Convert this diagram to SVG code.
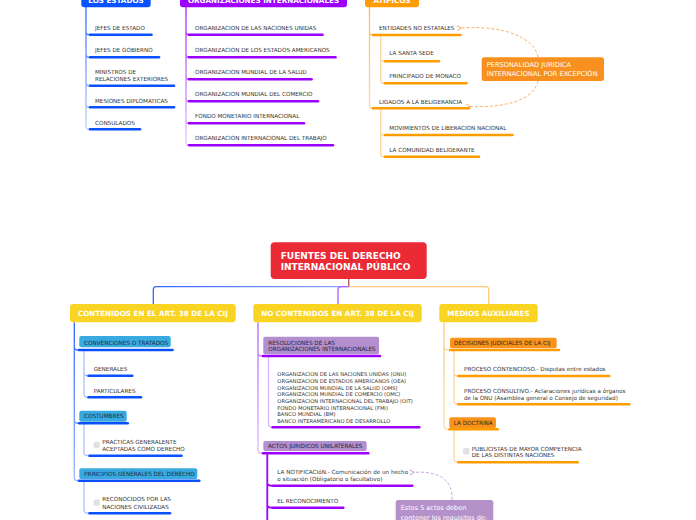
<svg xmlns="http://www.w3.org/2000/svg" width="696" height="520" viewBox="0 0 696 520">
<style>
text{font-family:"DejaVu Sans","Liberation Sans",sans-serif}
.t{font-size:5.65px;fill:#333}
.tl{font-size:5.2px;fill:#333}
.bl{font-size:7.2px;font-weight:bold;fill:#fff}
.lbB{font-size:5.7px;fill:#1d2c44}
.lbP{font-size:5.7px;fill:#2d2236}
.lbO{font-size:5.7px;fill:#3b2610}
.wt{font-size:6.7px;fill:#fff}
.uB{stroke:#0a50ff;stroke-width:2.6;stroke-linecap:round;fill:none}
.uP{stroke:#9d00ff;stroke-width:2.6;stroke-linecap:round;fill:none}
.uO{stroke:#ff9c00;stroke-width:2.6;stroke-linecap:round;fill:none}
.br{fill:none;stroke-width:1.3}
.subB{stroke:#a9c2ff}
.subP{stroke:#d9b5ff}
.subO{stroke:#fdd49a}
.dsh{fill:none;stroke-width:1;stroke-dasharray:3 2}
.cb{fill:#e2e2e2;stroke:#d0d0d0;stroke-width:0.5}
</style>
<defs>
<linearGradient id="gBT" gradientUnits="userSpaceOnUse" x1="0" y1="7" x2="0" y2="130"><stop offset="0" stop-color="#2f6cff"/><stop offset="1" stop-color="#c3d5ff"/></linearGradient>
<linearGradient id="gPT" gradientUnits="userSpaceOnUse" x1="0" y1="7" x2="0" y2="146"><stop offset="0" stop-color="#a324ff"/><stop offset="1" stop-color="#e6c8ff"/></linearGradient>
<linearGradient id="gOT" gradientUnits="userSpaceOnUse" x1="0" y1="7" x2="0" y2="110"><stop offset="0" stop-color="#ffbb5c"/><stop offset="1" stop-color="#ffd7a4"/></linearGradient>
<linearGradient id="gBH" gradientUnits="userSpaceOnUse" x1="153" y1="0" x2="349" y2="0"><stop offset="0" stop-color="#3566ff"/><stop offset="1" stop-color="#8fa8ff"/></linearGradient>
<linearGradient id="gBV" gradientUnits="userSpaceOnUse" x1="0" y1="322" x2="0" y2="482"><stop offset="0" stop-color="#2f63ff"/><stop offset="1" stop-color="#9fb8ff"/></linearGradient>
<linearGradient id="gPV" gradientUnits="userSpaceOnUse" x1="0" y1="322" x2="0" y2="454"><stop offset="0" stop-color="#b45cff"/><stop offset="1" stop-color="#ddb9ff"/></linearGradient>
<linearGradient id="gOV" gradientUnits="userSpaceOnUse" x1="0" y1="322" x2="0" y2="430"><stop offset="0" stop-color="#ffc978"/><stop offset="1" stop-color="#ffdcae"/></linearGradient>
<marker id="arO" markerWidth="6" markerHeight="6" refX="1" refY="3" orient="auto" markerUnits="userSpaceOnUse"><path d="M5,0.5 L1,3 L5,5.5" fill="none" stroke="#f9b26b" stroke-width="1"/></marker>
<marker id="arP" markerWidth="6" markerHeight="6" refX="1" refY="3" orient="auto" markerUnits="userSpaceOnUse"><path d="M5,0.5 L1,3 L5,5.5" fill="none" stroke="#c9a9e2" stroke-width="1"/></marker>
</defs>

<g id="connectors">
<path class="br" stroke="url(#gBT)" d="M86,7 V126.3 Q86,129.3 89,129.3 M86,31.7 Q86,34.7 89,34.7 M86,54.3 Q86,57.3 89,57.3 M86,82.7 Q86,85.7 89,85.7 M86,104.3 Q86,107.3 89,107.3"/>
<path class="br" stroke="url(#gPT)" d="M186,7 V142.3 Q186,145.3 189,145.3 M186,31.7 Q186,34.7 189,34.7 M186,54.3 Q186,57.3 189,57.3 M186,76.3 Q186,79.3 189,79.3 M186,98.3 Q186,101.3 189,101.3 M186,120.3 Q186,123.3 189,123.3"/>
<path class="br" stroke="url(#gOT)" d="M369.5,7 V105.3 Q369.5,108.3 373,108.3 M369.5,32 Q369.5,35 373,35"/>
<path class="br subO" d="M380.7,35 V80.3 Q380.7,83.3 384,83.3 M380.7,58.3 Q380.7,61.3 384,61.3 M380.7,108.3 V153.7 Q380.7,156.7 384,156.7 M380.7,132 Q380.7,135 384,135"/>
<path class="dsh" stroke="#f9b26b" marker-end="url(#arO)" d="M538,57 C534,36 500,25 461,28"/>
<path class="dsh" stroke="#f9b26b" marker-end="url(#arO)" d="M538,81 C534,100 505,108 470,106.5"/>

<path fill="none" stroke="#b9606a" stroke-width="1.5" d="M348.7,279 V287"/>
<path class="br" stroke="url(#gBH)" d="M348.7,286.7 H156.3 Q153.3,286.7 153.3,289.7 V304"/>
<path class="br" stroke="#b35cff" d="M348.7,286.7 H341 Q338,286.7 338,289.7 V304"/>
<path class="br" stroke="#ffc87c" d="M348.7,286.7 H485.7 Q488.7,286.7 488.7,289.7 V304"/>

<path class="br" stroke="url(#gBV)" d="M74.3,322.3 V477.7 Q74.3,480.7 78,480.7 M74.3,347 Q74.3,350 78,350 M74.3,420.3 Q74.3,423.3 78,423.3"/>
<path class="br subB" d="M84,350 V394.3 Q84,397.3 88,397.3 M84,372.7 Q84,375.7 88,375.7 M84,423.3 V452.7 Q84,455.7 89,455.7 M84,480.7 V510.3 Q84,513.3 89,513.3"/>

<path class="br" stroke="url(#gPV)" d="M258,322.3 V450.3 Q258,453.3 262,453.3 M258,353 Q258,356 262,356"/>
<path class="br subP" d="M268.5,356 V424.3 Q268.5,427.3 272.5,427.3"/>
<path fill="none" stroke="#9d00ff" stroke-width="1.8" d="M267.3,453.3 V525 M267.3,482.7 Q267.3,485.7 272,485.7 M267.3,504.7 Q267.3,507.7 272,507.7"/>
<path class="dsh" stroke="#c9a9e2" marker-end="url(#arP)" d="M452,500 C453,480 440,471 414,472.3"/>

<path class="br" stroke="url(#gOV)" d="M444,322.3 V426.3 Q444,429.3 448,429.3 M444,347 Q444,350 448,350"/>
<path class="br subO" d="M454,350 V401.3 Q454,404.3 458,404.3 M454,373 Q454,376 458,376 M454,429.3 V459.3 Q454,462.3 458,462.3"/>
</g>

<g id="los-estados">
<rect x="81.3" y="-12" width="69.4" height="19.3" rx="3" fill="#0a52ff"/>
<text class="bl" x="116" y="2.6" text-anchor="middle">LOS ESTADOS</text>
</g>
<g id="jefes-estado"><text class="t" x="95" y="30">JEFES DE ESTADO</text><path class="uB" d="M90,34.7 H151.5"/></g>
<g id="jefes-gobierno"><text class="t" x="95" y="52">JEFES DE GOBIERNO</text><path class="uB" d="M90,57.3 H159"/></g>
<g id="ministros"><text class="t" x="95" y="74.2">MINISTROS DE</text><text class="t" x="95" y="81.4">RELACIONES EXTERIORES</text><path class="uB" d="M90,85.7 H174"/></g>
<g id="misiones"><text class="t" x="95" y="102.7">MESIONES DIPLOMATICAS</text><path class="uB" d="M90,107.3 H174"/></g>
<g id="consulados"><text class="t" x="95" y="124.7">CONSULADOS</text><path class="uB" d="M90,129.3 H140"/></g>

<g id="org-internacionales">
<rect x="180" y="-12" width="167" height="19.3" rx="3" fill="#9d00ff"/>
<text class="bl" x="263.5" y="2.6" text-anchor="middle">ORGANIZACIONES INTERNACIONALES</text>
</g>
<g id="onu"><text class="t" x="195" y="30">ORGANIZACION DE LAS NACIONES UNIDAS</text><path class="uP" d="M189,34.7 H322.5"/></g>
<g id="oea"><text class="t" x="195" y="52">ORGANIZACION DE LOS ESTADOS AMERICANOS</text><path class="uP" d="M189,57.3 H335.5"/></g>
<g id="oms"><text class="t" x="195" y="74">ORGANIZACION MUNDIAL DE LA SALUD</text><path class="uP" d="M189,79.3 H311.5"/></g>
<g id="omc"><text class="t" x="195" y="96">ORGANIZACION MUNDIAL DEL COMERCIO</text><path class="uP" d="M189,101.3 H318"/></g>
<g id="fmi"><text class="t" x="195" y="118">FONDO MONETARIO INTERNACIONAL</text><path class="uP" d="M189,123.3 H304"/></g>
<g id="oit"><text class="t" x="195" y="140">ORGANIZACION INTERNACIONAL DEL TRABAJO</text><path class="uP" d="M189,145.3 H333"/></g>

<g id="atipicos">
<rect x="365" y="-12" width="54" height="19.3" rx="3" fill="#ff9c00"/>
<text class="bl" x="392" y="2.6" text-anchor="middle">ATIPICOS</text>
</g>
<g id="entidades"><text class="t" x="379" y="30">ENTIDADES NO ESTATALES</text><path class="uO" d="M373,35 H460.5"/></g>
<g id="santa-sede"><text class="t" x="389.3" y="55.3">LA SANTA SEDE</text><path class="uO" d="M385,61.3 H439"/></g>
<g id="monaco"><text class="t" x="389.3" y="78">PRINCIPADO DE MONACO</text><path class="uO" d="M385,83.3 H466.5"/></g>
<g id="ligados"><text class="t" x="379" y="104">LIGADOS A LA BELIGERANCIA</text><path class="uO" d="M373,108.3 H469"/></g>
<g id="movimientos"><text class="t" x="389.3" y="130">MOVIMIENTOS DE LIBERACION NACIONAL</text><path class="uO" d="M385,135 H512.5"/></g>
<g id="comunidad"><text class="t" x="389.3" y="152">LA COMUNIDAD BELIGERANTE</text><path class="uO" d="M385,156.7 H479"/></g>
<g id="personalidad">
<rect x="481.7" y="57.3" width="122.3" height="23.7" rx="2.5" fill="#f7901e"/>
<text class="wt" x="486.7" y="66.7">PERSONALIDAD JURIDICA</text>
<text class="wt" x="486.7" y="75.7">INTERNACIONAL POR EXCEPCIÓN</text>
</g>

<g id="root">
<rect x="270.7" y="242.3" width="156" height="36.7" rx="4" fill="#ea2a35"/>
<text x="280.7" y="259.3" style="font-size:9px;font-weight:bold;fill:#fff">FUENTES DEL DERECHO</text>
<text x="280.7" y="270.2" style="font-size:9px;font-weight:bold;fill:#fff">INTERNACIONAL PÚBLICO</text>
</g>

<g id="contenidos">
<rect x="70" y="304" width="165.7" height="18.3" rx="3" fill="#f9d423"/>
<text class="bl" x="152.9" y="315.8" text-anchor="middle">CONTENIDOS EN EL ART. 38 DE LA CIJ</text>
</g>
<g id="no-contenidos">
<rect x="253.3" y="304" width="168.4" height="18.3" rx="3" fill="#f9d423"/>
<text class="bl" x="337.5" y="315.8" text-anchor="middle">NO CONTENIDOS EN ART. 38 DE LA CIJ</text>
</g>
<g id="medios">
<rect x="439.3" y="304" width="98.4" height="18.3" rx="3" fill="#f9d423"/>
<text class="bl" x="488.5" y="315.8" text-anchor="middle">MEDIOS AUXILIARES</text>
</g>

<g id="convenciones">
<rect x="79.3" y="336" width="91.4" height="11.3" rx="2" fill="#38aae1"/>
<text class="lbB" x="84" y="344.6">CONVENCIONES O TRATADOS</text>
<path class="uB" d="M79,350 H172.5"/>
</g>
<g id="generales"><text class="t" x="93.7" y="371">GENERALES</text><path class="uB" d="M88.5,375.7 H132.3"/></g>
<g id="particulares"><text class="t" x="93.7" y="392.7">PARTICULARES</text><path class="uB" d="M88.5,397.3 H141"/></g>
<g id="costumbres">
<rect x="79.3" y="410.7" width="47.4" height="11" rx="2" fill="#38aae1"/>
<text class="lbB" x="84" y="417.9">COSTUMBRES</text>
<path class="uB" d="M79,423.3 H127.7"/>
</g>
<g id="practicas">
<rect class="cb" x="94" y="442.3" width="5.3" height="5.3" rx="1"/>
<text class="t" x="102.3" y="443.8">PRACTICAS GENERALENTE</text>
<text class="t" x="102.3" y="450.8">ACEPTADAS COMO DERECHO</text>
<path class="uB" d="M89.5,455.7 H181.5"/>
</g>
<g id="principios">
<rect x="79.3" y="468.3" width="118" height="10.7" rx="2" fill="#38aae1"/>
<text class="lbB" x="84" y="475.5">PRINCIPIOS GENERALES DEL DERECHO</text>
<path class="uB" d="M79,480.7 H199.3"/>
</g>
<g id="reconocidos">
<rect class="cb" x="94" y="500" width="5.3" height="5.3" rx="1"/>
<text class="t" x="102.3" y="501.4">RECONOCIDOS POR LAS</text>
<text class="t" x="102.3" y="508.7">NACIONES CIVILIZADAS</text>
<path class="uB" d="M89.5,513.3 H170"/>
</g>

<g id="resoluciones">
<rect x="263.3" y="336.7" width="115.7" height="17.6" rx="2" fill="#b38fcd"/>
<text class="lbP" x="268.3" y="345.3">RESOLUCIONES DE LAS</text>
<text class="lbP" x="268.3" y="351.4">ORGANIZACIONES INTERNACIONALES</text>
<path class="uP" d="M263,356 H380"/>
</g>
<g id="lista-organizaciones">
<text class="tl" x="277.3" y="376.3">ORGANIZACION DE LAS NACIONES UNIDAS (ONU)</text>
<text class="tl" x="277.3" y="382.9">ORGANIZACION DE ESTADOS AMERICANOS (OEA)</text>
<text class="tl" x="277.3" y="389.6">ORGANIZACION MUNDIAL DE LA SALUD (OMS)</text>
<text class="tl" x="277.3" y="396.2">ORGANIZACION MUNDIAL DE COMERCIO (OMC)</text>
<text class="tl" x="277.3" y="402.8">ORGANIZACION INTERNACIONAL DEL TRABAJO (OIT)</text>
<text class="tl" x="277.3" y="409.5">FONDO MONETARIO INTERNACIONAL (FMI)</text>
<text class="tl" x="277.3" y="416.1">BANCO MUNDIAL (BM)</text>
<text class="tl" x="277.3" y="422.7">BANCO INTERAMERICANO DE DESARROLLO</text>
<path class="uP" d="M272.7,427.3 H419.3"/>
</g>
<g id="actos">
<rect x="263.3" y="441" width="103.4" height="10" rx="2" fill="#b38fcd"/>
<text class="lbP" x="268" y="447.9">ACTOS JURIDICOS UNILATERALES</text>
<path class="uP" d="M263,453.3 H368.3"/>
</g>
<g id="notificacion">
<text class="t" x="277.3" y="474">LA NOTIFICACIóN.- Comunicación de un hecho</text>
<text class="t" x="277.3" y="481.3">o situación (Obligatorio o facultativo)</text>
<path class="uP" d="M272.7,485.7 H412.3"/>
</g>
<g id="reconocimiento"><text class="t" x="277.3" y="502.7">EL RECONOCIMIENTO</text><path class="uP" d="M272.7,507.7 H343.3"/></g>
<g id="estos-5-actos">
<rect x="395.7" y="500" width="97.6" height="32" rx="2.5" fill="#b492c9"/>
<text class="wt" x="400.7" y="510.3" style="font-size:6.5px">Estos 5 actos deben</text>
<text class="wt" x="400.7" y="519.7" style="font-size:6.5px">contener los requisitos de:</text>
</g>

<g id="decisiones">
<rect x="450" y="337.7" width="106.7" height="10.6" rx="2" fill="#f7931e"/>
<text class="lbO" x="454" y="345.4">DECISIONES JUDICIALES DE LA CIJ</text>
<path class="uO" d="M450,350 H559"/>
</g>
<g id="contencioso"><text class="t" x="464" y="371.3">PROCESO CONTENCIOSO.- Disputas entre estados</text><path class="uO" d="M458.3,376 H609.3"/></g>
<g id="consultivo">
<text class="t" x="464" y="392.7">PROCESO CONSULTIVO.- Aclaraciones jurídicas a órganos</text>
<text class="t" x="464" y="399.7">de la ONU (Asamblea general o Consejo de seguridad)</text>
<path class="uO" d="M458.3,404.3 H629.3"/>
</g>
<g id="doctrina">
<rect x="449.3" y="417.3" width="46.7" height="11" rx="2" fill="#f7931e"/>
<text class="lbO" x="453.7" y="425.4">LA DOCTRINA</text>
<path class="uO" d="M449.5,429.3 H497.7"/>
</g>
<g id="publicistas">
<rect class="cb" x="463.5" y="448.5" width="5.5" height="5.5" rx="1"/>
<text class="t" x="471.7" y="451.2">PUBLICISTAS DE MAYOR COMPETENCIA</text>
<text class="t" x="471.7" y="456.7">DE LAS DISTINTAS NACIONES</text>
<path class="uO" d="M458.3,462.3 H577.7"/>
</g>
</svg>
